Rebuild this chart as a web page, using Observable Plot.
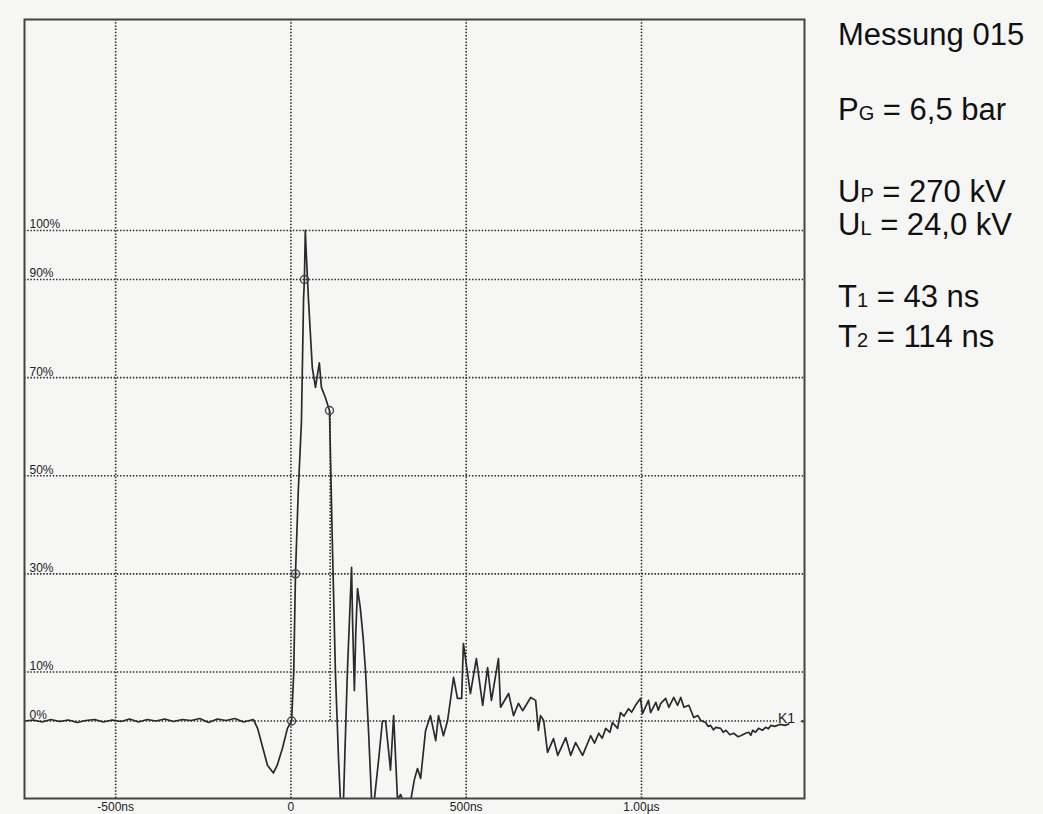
<!DOCTYPE html>
<html><head><meta charset="utf-8">
<script src="https://cdn.jsdelivr.net/npm/d3@7"></script>
<script src="https://cdn.jsdelivr.net/npm/@observablehq/plot@0.6"></script>
<style>
html,body{margin:0;padding:0;}
body{background:#f6f6f5;width:1043px;height:814px;overflow:hidden;position:relative;font-family:"Liberation Sans",Arial,sans-serif;}
#chart{position:absolute;left:0;top:0;}
#info{position:absolute;left:820px;top:0;}
</style></head><body>
<div id="chart"></div>
<svg id="info" width="223" height="400" font-family="Liberation Sans, Arial, sans-serif" fill="#111">
  <text x="18" y="45" font-size="31">Messung 015</text>
  <text x="18" y="120" font-size="31">P<tspan font-size="20">G</tspan> = 6,5 bar</text>
  <text x="18" y="202" font-size="31">U<tspan font-size="20">P</tspan> = 270 kV</text>
  <text x="18" y="235" font-size="31">U<tspan font-size="20">L</tspan> = 24,0 kV</text>
  <text x="18" y="307" font-size="31">T<tspan font-size="20">1</tspan> = 43 ns</text>
  <text x="18" y="347" font-size="31">T<tspan font-size="20">2</tspan> = 114 ns</text>
</svg>
<script>
const xDomain = [-760, 1465];
const yDomain = [-15.8, 143];
const xTicks = [-500, 0, 500, 1000];
const xTickLabels = ["-500ns", "0", "500ns", "1.00µs"];
const yTicks = [0, 10, 30, 50, 70, 90, 100];
const yTickLabels = ["0%", "10%", "30%", "50%", "70%", "90%", "100%"];
const zeroLineEnd = 1388;
const channelLabel = "K1";
const channelLabelEnd = 1438;

// time in ns, voltage in % of peak
const timeNs = [
 -760,-735,-710,-685,-660,-635,-610,-585,-560,-535,-510,-485,-460,-435,-410,-385,-360,-335,-310,-285,-260,-235,-210,-185,-160,-135,-107,
 -95,-82,-67,-50,-39,-24,-10,2,8,13,21,30,36,38.5,41,44,50,61,70,81,87,98,110,118,127,136,141,145,150,161,173,176,181,185,190,198,206,213,222,230,234,238,
 250,261,270,284,293,304,313,321,330,341,352,361,370,384,398,413,421,435,447,464,475,487,492,512,529,547,561,572,592,598,621,635,649,661,684,698,706,712,721,
 732,749,761,784,798,812,832,855,866,878,888,898,910,917,932,940,950,963,972,983,997,1003,1020,1026,1041,1048,1055,1069,1078,1092,1103,1112,1121,1135,
 1149,1161,1169,1183,1190,1197,1205,1212,1226,1233,1241,1252,1263,1275,1283,1297,1306,1312,1317,1325,1334,1345,1354,1362,1369,1380,1395,1410,1420
];
const voltagePct = [
 0,0.2,-0.2,0.3,-0.1,0.2,-0.3,0.1,0.3,-0.2,0.2,-0.1,0.4,-0.2,0.3,0,0.4,-0.1,0.3,0.1,0.5,-0.3,0.4,0.1,0.5,-0.2,0.3,
 -1.5,-5,-9,-10.6,-9,-5.5,-1.5,0,10,30,47,61,86,90,100,95,86,72,68,73,68,66,63.3,36.8,9.7,-8,-16,-21,-16,10,31.3,20,6.2,18,27,23,17,10,-3,-16,-21,-16,
 -8,0,0,-10,1.1,-16,-15,-16.5,-19,-16.5,-12,-9.7,-11.7,-2,1.1,-4,1.1,-3,0.1,8.9,4.6,4.6,15.8,5.6,12.7,3.2,10.9,4.2,12.7,2.8,5.6,1.1,3.6,2.1,4.8,4.2,-1.9,1.1,0.1,
 -6.4,-3.6,-7,-3.4,-7,-4.4,-7,-3,-4.5,-2.5,-3.5,-1.5,-2.3,-0.3,-1.5,1.7,1,2.5,1.8,3.2,4.6,1.5,4.2,1.7,3.8,2.2,3.6,4.6,2.8,4.8,3.2,4.8,2.8,3.2,
 0.7,1.1,0.1,-0.3,-1.1,-0.9,-1.8,-1.3,-1.5,-2.3,-1.9,-2.8,-2.5,-3.2,-3,-2.5,-2.3,-2.9,-1.9,-2.3,-1.5,-1.9,-1.3,-1.6,-0.9,-1.1,-0.7,-0.9,-0.6
];
// measurement markers (0%, 30%, 90%, T2 point)
const markerTime = [2, 13, 38.5, 110];
const markerPct = [0, 30, 90, 63.3];
const t2Time = 112;
const t2Pct = 63.3;

const wave = timeNs.map((t, i) => ({t, v: voltagePct[i]}));
const markers = markerTime.map((t, i) => ({t, v: markerPct[i]}));

const dotted = {stroke: "#2f2f2f", strokeWidth: 1.6, strokeDasharray: "1.5,1.7"};

const chart = Plot.plot({
  width: 820,
  height: 814,
  marginLeft: 24,
  marginRight: 16,
  marginTop: 19,
  marginBottom: 16,
  style: {background: "transparent", fontFamily: "Liberation Sans, Arial, sans-serif"},
  x: {domain: xDomain, label: null},
  y: {domain: yDomain, axis: null, label: null},
  marks: [
    Plot.ruleX(xTicks, {x: d => d, ...dotted}),
    Plot.ruleY(yTicks.filter(d => d !== 0), {y: d => d, ...dotted}),
    Plot.ruleY([0], {y: d => d, x1: () => xDomain[0], x2: () => zeroLineEnd, ...dotted}),
    Plot.ruleX([t2Time], {x: d => d, y1: () => 0, y2: () => t2Pct, ...dotted}),
    Plot.line(wave, {x: "t", y: "v", stroke: "#2a2a2a", strokeWidth: 1.7, strokeLinejoin: "round", clip: true}),
    Plot.dot(markers, {x: "t", y: "v", r: 4, stroke: "#444", strokeWidth: 1.4, fill: "none"}),
    Plot.text(yTicks, {x: () => xDomain[0], y: d => d, text: d => yTickLabels[yTicks.indexOf(d)],
      textAnchor: "start", lineAnchor: "bottom", dx: 5, dy: -2, fontSize: 12, fill: "#222"}),
    Plot.text([channelLabel], {x: () => channelLabelEnd, y: () => 0, text: d => d,
      textAnchor: "end", lineAnchor: "middle", dy: -2, fontSize: 14, fill: "#222"}),
    Plot.text(["◂"], {x: () => xDomain[1], y: () => 0, text: d => d,
      textAnchor: "end", lineAnchor: "middle", dx: -1, fontSize: 7, fill: "#333"}),
    Plot.frame({stroke: "#444", strokeWidth: 2}),
    Plot.axisX(xTicks, {tickFormat: d => xTickLabels[xTicks.indexOf(d)], tickSize: 0, tickPadding: 4,
      fontSize: 12, fill: "#222", label: null})
  ]
});
document.getElementById("chart").appendChild(chart);
</script>
</body></html>
